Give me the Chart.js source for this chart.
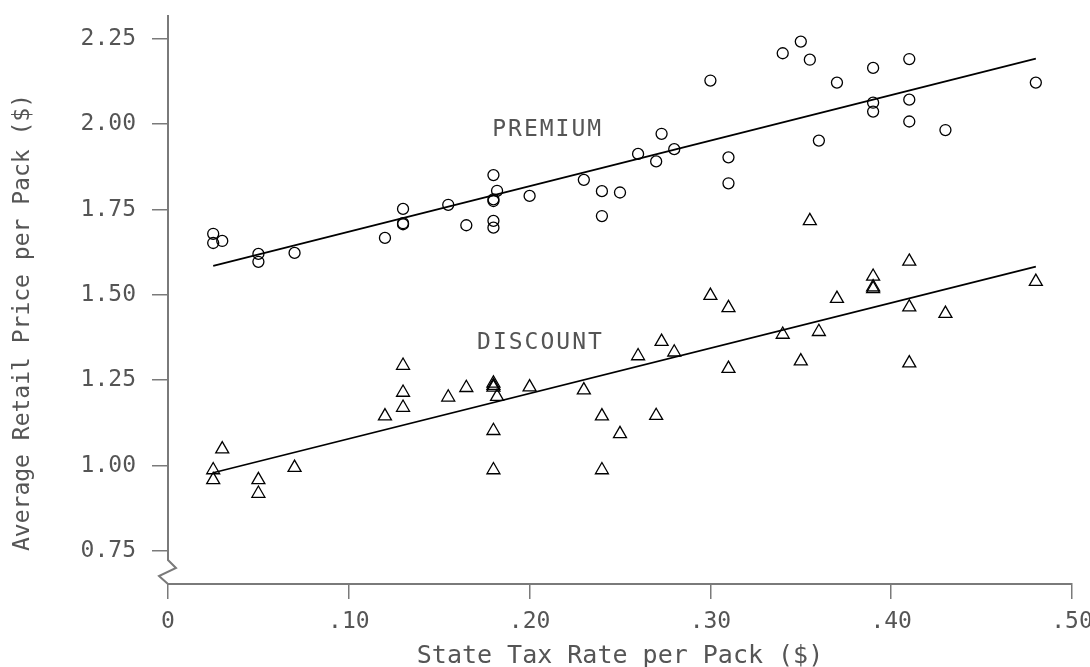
<!DOCTYPE html>
<html>
<head>
<meta charset="utf-8">
<script src="https://cdn.jsdelivr.net/npm/chart.js@4.4.1/dist/chart.umd.min.js"></script>
<style>
  html, body { margin: 0; padding: 0; background: #fff; }
</style>
</head>
<body>
<canvas id="chart" width="1090" height="667"></canvas>
<script>
// Premium brands (circles)
const premiumTax = [0.025, 0.025, 0.030, 0.05, 0.05, 0.07, 0.12, 0.13, 0.13, 0.13, 0.155, 0.165,
  0.18, 0.18, 0.18, 0.18, 0.18, 0.182, 0.20, 0.23, 0.24, 0.24, 0.25, 0.26, 0.27, 0.273, 0.28,
  0.30, 0.31, 0.31, 0.34, 0.35, 0.355, 0.36, 0.37, 0.39, 0.39, 0.39, 0.41, 0.41, 0.41, 0.43, 0.48];
const premiumPrice = [1.679, 1.652, 1.658, 1.620, 1.597, 1.623, 1.667, 1.752, 1.710, 1.707, 1.764, 1.704,
  1.851, 1.780, 1.775, 1.717, 1.697, 1.805, 1.790, 1.837, 1.804, 1.731, 1.800, 1.913, 1.891, 1.972, 1.927,
  2.128, 1.903, 1.827, 2.208, 2.242, 2.189, 1.952, 2.122, 2.165, 2.063, 2.037, 2.191, 2.072, 2.008, 1.983, 2.122];

// Discount brands (triangles)
const discountTax = [0.025, 0.025, 0.030, 0.05, 0.05, 0.07, 0.12, 0.13, 0.13, 0.13, 0.155, 0.165,
  0.18, 0.18, 0.18, 0.18, 0.18, 0.182, 0.20, 0.23, 0.24, 0.24, 0.25, 0.26, 0.27, 0.273, 0.28,
  0.30, 0.31, 0.31, 0.34, 0.35, 0.355, 0.36, 0.37, 0.39, 0.39, 0.39, 0.41, 0.41, 0.41, 0.43, 0.48];
const discountPrice = [0.987, 0.958, 1.048, 0.958, 0.918, 0.994, 1.145, 1.293, 1.214, 1.170, 1.200, 1.228,
  1.241, 1.234, 1.229, 1.102, 0.987, 1.202, 1.230, 1.221, 1.145, 0.987, 1.093, 1.321, 1.146, 1.363, 1.332,
  1.498, 1.462, 1.284, 1.384, 1.306, 1.717, 1.392, 1.489, 1.554, 1.523, 1.518, 1.598, 1.464, 1.300, 1.445, 1.539];

// fitted lines (end points)
const fitTax = [0.025, 0.48];
const premiumFit = [1.585, 2.192];
const discountFit = [0.979, 1.583];

const xTicks = [0, 0.10, 0.20, 0.30, 0.40, 0.50];
const yTicks = [0.75, 1.00, 1.25, 1.50, 1.75, 2.00, 2.25];

const groupLabels = ['PREMIUM', 'DISCOUNT'];
const groupLabelAt = [[0.21, 1.982], [0.206, 1.36]];

const yTitle = 'Average Retail Price per Pack ($)';

const axisGray = '#7a7a7a';
const textGray = '#555';
const fontFamily = "'DejaVu Sans Mono', monospace";
const monoFont = { family: fontFamily, size: 23 };

const toPoints = (xs, ys) => xs.map((x, i) => ({ x: x, y: ys[i] }));

// y axis drawn by hand so it can carry the break mark above the x axis,
// plus the group labels and the rotated y title
const axisBreak = {
  id: 'axisBreak',
  afterDraw(chart) {
    const { ctx, chartArea: { left, top, bottom } } = chart;
    ctx.save();
    ctx.strokeStyle = axisGray;
    ctx.lineWidth = 2;
    ctx.beginPath();
    ctx.moveTo(left, top);
    ctx.lineTo(left, bottom - 24);
    ctx.lineTo(left + 8, bottom - 16);
    ctx.lineTo(left - 9, bottom - 8);
    ctx.lineTo(left, bottom);
    ctx.stroke();

    ctx.fillStyle = textGray;
    ctx.font = '23px ' + fontFamily;
    ctx.textAlign = 'center';
    ctx.textBaseline = 'middle';

    // y title, centred a bit below the middle of the axis like the original
    ctx.save();
    ctx.translate(23, (top + bottom) / 2 + 23);
    ctx.rotate(-Math.PI / 2);
    ctx.fillText(yTitle, 0, 0);
    ctx.restore();

    if ('letterSpacing' in ctx) ctx.letterSpacing = '2px';
    groupLabels.forEach((txt, i) => {
      const px = chart.scales.x.getPixelForValue(groupLabelAt[i][0]);
      const py = chart.scales.y.getPixelForValue(groupLabelAt[i][1]);
      ctx.fillText(txt, px, py);
    });
    ctx.restore();
  }
};

new Chart(document.getElementById('chart'), {
  type: 'scatter',
  data: {
    datasets: [
      {
        label: 'Premium',
        data: toPoints(premiumTax, premiumPrice),
        pointStyle: 'circle',
        pointRadius: 5.5,
        borderWidth: 1.3,
        borderColor: '#000',
        backgroundColor: 'rgba(0,0,0,0)'
      },
      {
        label: 'Discount',
        data: toPoints(discountTax, discountPrice),
        pointStyle: 'triangle',
        pointRadius: 7.5,
        borderWidth: 1.3,
        borderColor: '#000',
        backgroundColor: 'rgba(0,0,0,0)'
      },
      {
        label: 'Premium fit',
        data: toPoints(fitTax, premiumFit),
        showLine: true,
        pointRadius: 0,
        borderWidth: 1.7,
        borderColor: '#000'
      },
      {
        label: 'Discount fit',
        data: toPoints(fitTax, discountFit),
        showLine: true,
        pointRadius: 0,
        borderWidth: 1.7,
        borderColor: '#000'
      }
    ]
  },
  options: {
    responsive: false,
    animation: false,
    layout: { padding: { left: 0, right: 18, top: 15, bottom: 0 } },
    plugins: {
      legend: { display: false },
      tooltip: { enabled: false }
    },
    scales: {
      x: {
        type: 'linear',
        min: 0,
        max: 0.5,
        afterBuildTicks: scale => { scale.ticks = xTicks.map(v => ({ value: v })); },
        afterFit: scale => {
          scale.height = 83;
          scale.paddingLeft = 0;
          scale.paddingRight = 0;
        },
        grid: { drawOnChartArea: false, drawTicks: true, tickLength: 15, color: axisGray, lineWidth: 1.5 },
        border: { display: true, color: axisGray, width: 2 },
        ticks: {
          autoSkip: false,
          maxRotation: 0,
          padding: 9,
          color: textGray,
          font: monoFont,
          callback: v => (v === 0 ? '0' : '.' + String(Math.round(v * 100)).padStart(2, '0'))
        },
        title: {
          display: true,
          text: 'State Tax Rate per Pack ($)',
          color: textGray,
          font: { family: fontFamily, size: 25, lineHeight: 0.85 },
          padding: { top: 0, bottom: 0 }
        }
      },
      y: {
        type: 'linear',
        min: 0.653,
        max: 2.32,
        afterBuildTicks: scale => { scale.ticks = yTicks.map(v => ({ value: v })); },
        afterFit: scale => {
          scale.width = 168;
          scale.paddingTop = 0;
          scale.paddingBottom = 0;
        },
        grid: { drawOnChartArea: false, drawTicks: true, tickLength: 16, color: axisGray, lineWidth: 1.5 },
        border: { display: false },
        ticks: {
          padding: 16,
          color: textGray,
          font: monoFont,
          callback: v => Number(v).toFixed(2)
        },
        title: { display: false }
      }
    }
  },
  plugins: [axisBreak]
});
</script>
</body>
</html>
